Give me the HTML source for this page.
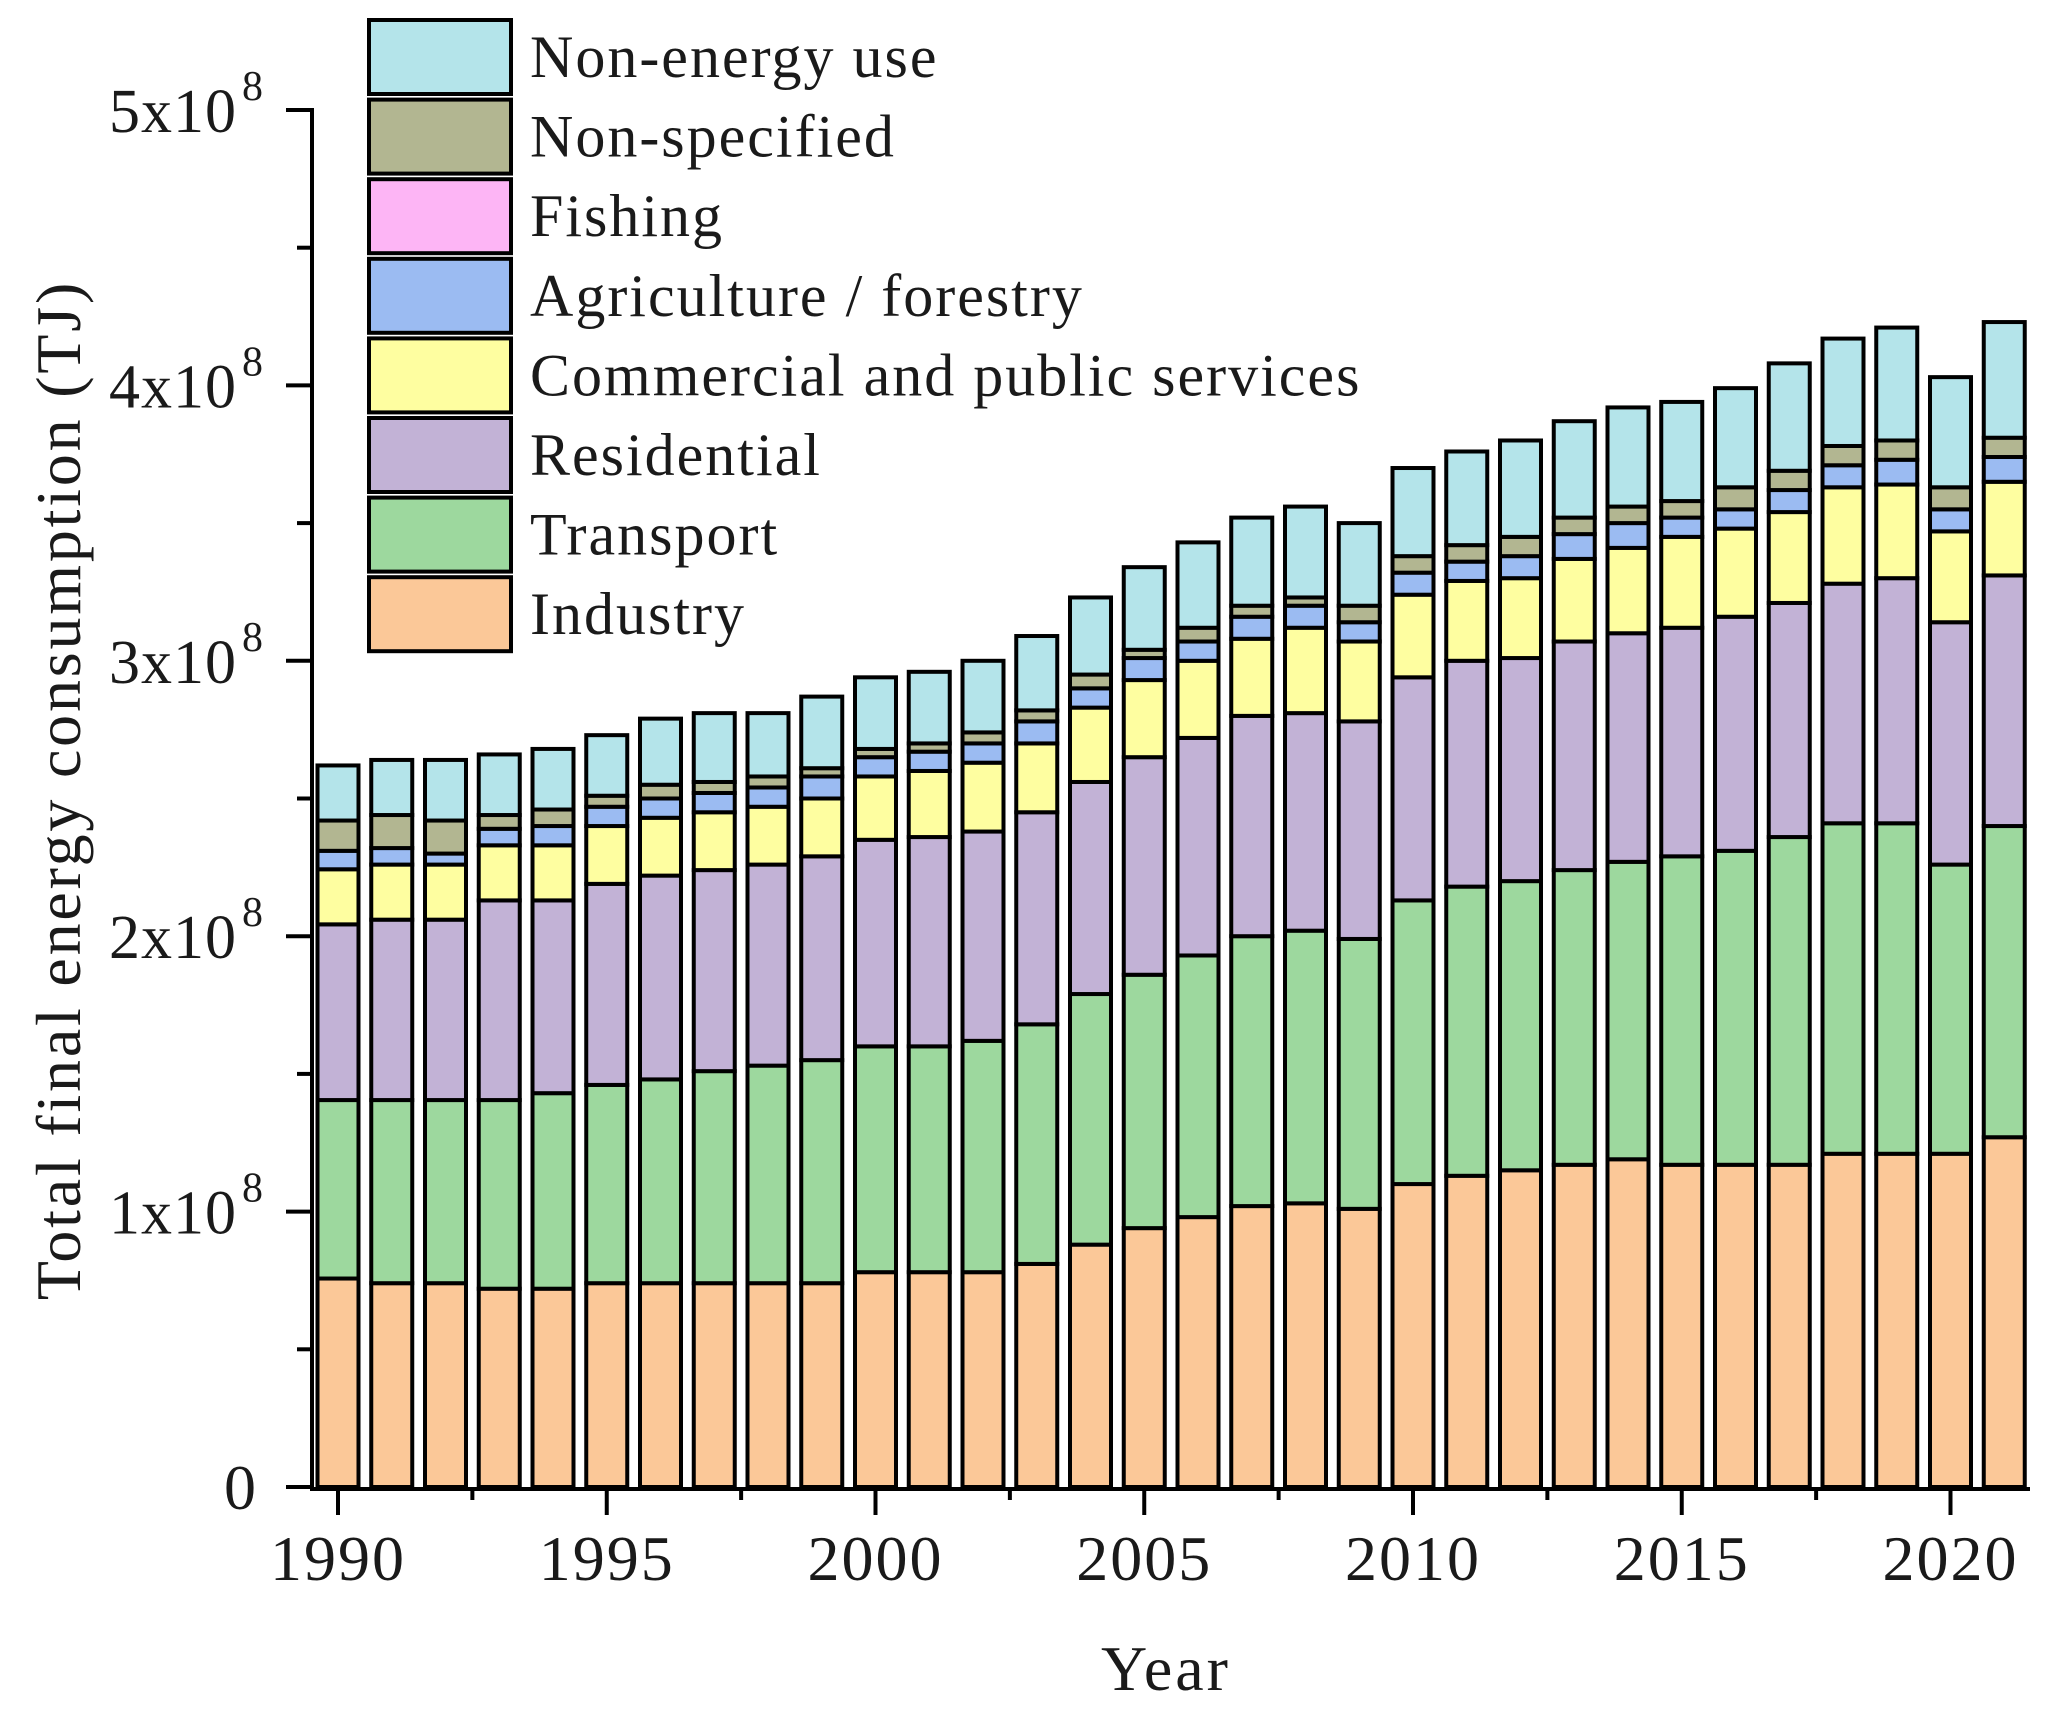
<!DOCTYPE html>
<html><head><meta charset="utf-8"><style>
html,body{margin:0;padding:0;background:#fff;}
svg text{font-family:"Liberation Serif",serif;fill:#1a1a1a;}
</style></head><body>
<svg id="c" width="2055" height="1717" xmlns="http://www.w3.org/2000/svg"></svg>
<script>
const svg=document.getElementById('c');
const NS='http://www.w3.org/2000/svg';
function el(t,a,txt){const e=document.createElementNS(NS,t);for(const k in a)e.setAttribute(k,a[k]);if(txt!==undefined)e.textContent=txt;svg.appendChild(e);return e;}
const Y0=1487,S=275.4,X0=338,DX=53.75,BW=41;
const y=v=>Y0-v*S, x=yr=>X0+(yr-1990)*DX;
const D=[
[0.757,1.405,2.043,2.243,2.31,2.42,2.62],
[0.74,1.405,2.06,2.26,2.32,2.44,2.64],
[0.74,1.405,2.06,2.26,2.30,2.42,2.64],
[0.72,1.405,2.13,2.33,2.39,2.44,2.66],
[0.72,1.43,2.13,2.33,2.40,2.46,2.68],
[0.74,1.46,2.19,2.40,2.47,2.51,2.73],
[0.74,1.48,2.22,2.43,2.50,2.55,2.79],
[0.74,1.51,2.24,2.45,2.52,2.56,2.81],
[0.74,1.53,2.26,2.47,2.54,2.58,2.81],
[0.74,1.55,2.29,2.50,2.58,2.61,2.87],
[0.78,1.60,2.35,2.58,2.65,2.68,2.94],
[0.78,1.60,2.36,2.60,2.67,2.70,2.96],
[0.78,1.62,2.38,2.63,2.70,2.74,3.00],
[0.81,1.68,2.45,2.70,2.78,2.82,3.09],
[0.88,1.79,2.56,2.83,2.90,2.95,3.23],
[0.94,1.86,2.65,2.93,3.01,3.04,3.34],
[0.98,1.93,2.72,3.00,3.07,3.12,3.43],
[1.02,2.00,2.80,3.08,3.16,3.20,3.52],
[1.03,2.02,2.81,3.12,3.20,3.23,3.56],
[1.01,1.99,2.78,3.07,3.14,3.20,3.50],
[1.10,2.13,2.94,3.24,3.32,3.38,3.70],
[1.13,2.18,3.00,3.29,3.36,3.42,3.76],
[1.15,2.20,3.01,3.30,3.38,3.45,3.80],
[1.17,2.24,3.07,3.37,3.46,3.52,3.87],
[1.19,2.27,3.10,3.41,3.50,3.56,3.92],
[1.17,2.29,3.12,3.45,3.52,3.58,3.94],
[1.17,2.31,3.16,3.48,3.55,3.63,3.99],
[1.17,2.36,3.21,3.54,3.62,3.69,4.08],
[1.21,2.41,3.28,3.63,3.71,3.78,4.17],
[1.21,2.41,3.30,3.64,3.73,3.80,4.21],
[1.21,2.26,3.14,3.47,3.55,3.63,4.03],
[1.27,2.40,3.31,3.65,3.74,3.81,4.23]];
const C=['#fbc898','#9dd89e','#c2b2d6','#fefea0','#9bbbf2','#b2b691','#b4e4ea'];
D.forEach((d,i)=>{const cx=x(1990+i);let prev=0;
 d.forEach((v,j)=>{el('rect',{x:cx-BW/2,y:y(v),width:BW,height:y(prev)-y(v),fill:C[j],stroke:'#000','stroke-width':4});prev=v;});});
el('line',{x1:312,y1:108,x2:312,y2:1489,stroke:'#000','stroke-width':4});
el('line',{x1:310,y1:1489,x2:2030,y2:1489,stroke:'#000','stroke-width':4});
for(let k=0;k<=10;k++){const yy=y(k*0.5);el('line',{x1:k%2?297:286,y1:yy,x2:312,y2:yy,stroke:'#000','stroke-width':4});}
for(let k=0;k<=12;k++){const xx=X0+k*2.5*DX;el('line',{x1:xx,y1:1489,x2:xx,y2:k%2?1500:1515,stroke:'#000','stroke-width':4});}
for(let k=0;k<=6;k++){const yr=1990+5*k;el('text',{x:x(yr),y:1580,'font-size':64,'text-anchor':'middle','letter-spacing':2},String(yr));}
el('text',{x:256,y:y(0)+22,'font-size':64,'text-anchor':'end'},'0');
for(let k=1;k<=5;k++){const yy=y(k);el('text',{x:237,y:yy+22,'font-size':62,'text-anchor':'end','letter-spacing':1},k+'x10');
 el('text',{x:242,y:yy-10,'font-size':42},'8');}
el('text',{x:1166,y:1690,'font-size':64,'text-anchor':'middle','letter-spacing':3},'Year');
el('text',{x:0,y:0,'font-size':64,'text-anchor':'middle','letter-spacing':2.8,transform:'translate(80,790) rotate(-90)'},'Total final energy consumption (TJ)');
const L=[['Non-energy use','#b4e4ea'],['Non-specified','#b2b691'],['Fishing','#fdb5f5'],['Agriculture / forestry','#9bbbf2'],['Commercial and public services','#fefea0'],['Residential','#c2b2d6'],['Transport','#9dd89e'],['Industry','#fbc898']];
L.forEach((l,i)=>{const t=20+79.6*i;el('rect',{x:369,y:t,width:142,height:74,fill:l[1],stroke:'#000','stroke-width':4});
 el('text',{x:530,y:t+57,'font-size':60,'letter-spacing':2},l[0]);});
</script>
</body></html>
